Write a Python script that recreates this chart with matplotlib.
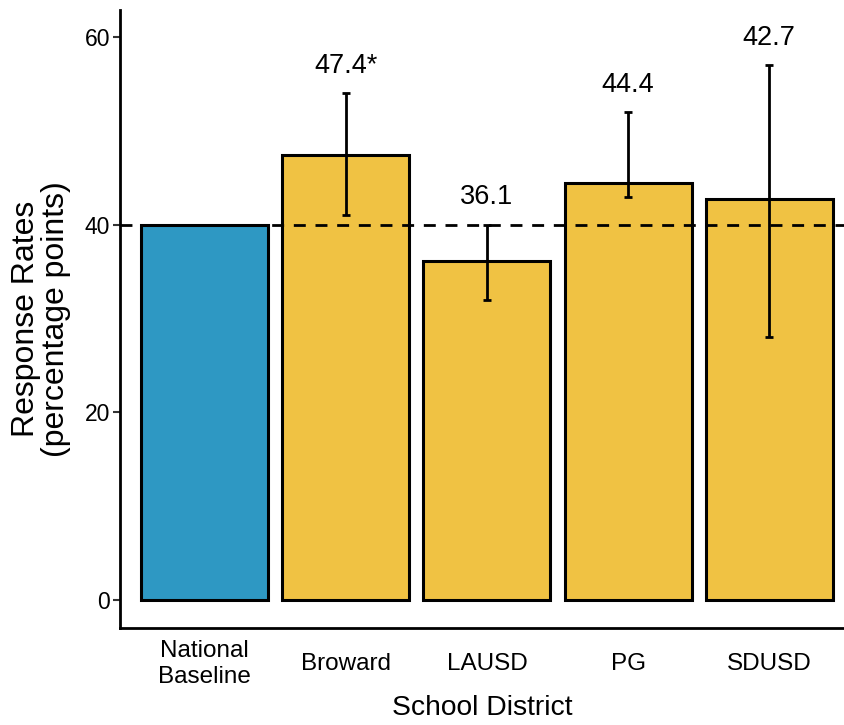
import numpy as np
import matplotlib
matplotlib.use("Agg")
import matplotlib.pyplot as plt

plt.rcParams['font.family'] = ['Liberation Sans', 'DejaVu Sans']

# data
districts = ["National\nBaseline", "Broward", "LAUSD", "PG", "SDUSD"]
rates = [40.0, 47.4, 36.1, 44.4, 42.7]
ci_low = [np.nan, 41.0, 32.0, 43.0, 28.0]
ci_high = [np.nan, 54.0, 40.0, 52.0, 57.0]
labels = ["", "47.4*", "36.1", "44.4", "42.7"]
baseline = 40

blue = "#2E98C3"
yellow = "#F0C243"
colors = [blue] + [yellow] * 4

fig = plt.figure(figsize=(8.44, 7.25), dpi=100)
ax = fig.add_axes([120 / 844, 97 / 725, 724 / 844, 618 / 725])

x = np.arange(len(districts))
ax.bar(x, rates, width=0.9, color=colors, edgecolor="black", linewidth=2.2, zorder=2)

# error bars only where we have intervals
for i in range(len(x)):
    if np.isnan(ci_low[i]):
        continue
    ax.errorbar(x[i], rates[i], yerr=[[rates[i] - ci_low[i]], [ci_high[i] - rates[i]]],
                fmt="none", ecolor="black", elinewidth=2, capsize=3, capthick=2, zorder=4)
    ax.text(x[i], ci_high[i] + 2.2, labels[i], ha="center", va="baseline", fontsize=19.5)

ax.axhline(baseline, color="black", linestyle=(0, (4.3, 3.5)), linewidth=2, zorder=3)

ax.set_xlim(-0.6, 4.53)
ax.set_ylim(-3, 62.9)
ax.set_yticks([0, 20, 40, 60])
ax.set_xticks(x)
ax.set_xticklabels(districts, fontsize=17.5, linespacing=1.25, va="center")
ax.tick_params(axis="y", labelsize=16.5, length=5, width=1.5, color="#333333", pad=2)
ax.tick_params(axis="x", length=0, pad=26)

for s in ["top", "right"]:
    ax.spines[s].set_visible(False)
for s in ["left", "bottom"]:
    ax.spines[s].set_linewidth(2)

ax.set_xlabel("School District", fontsize=20.3, labelpad=5)
ax.set_ylabel("Response Rates\n(percentage points)", fontsize=23, labelpad=10, linespacing=1.0)

fig.savefig("out.png", dpi=100)
